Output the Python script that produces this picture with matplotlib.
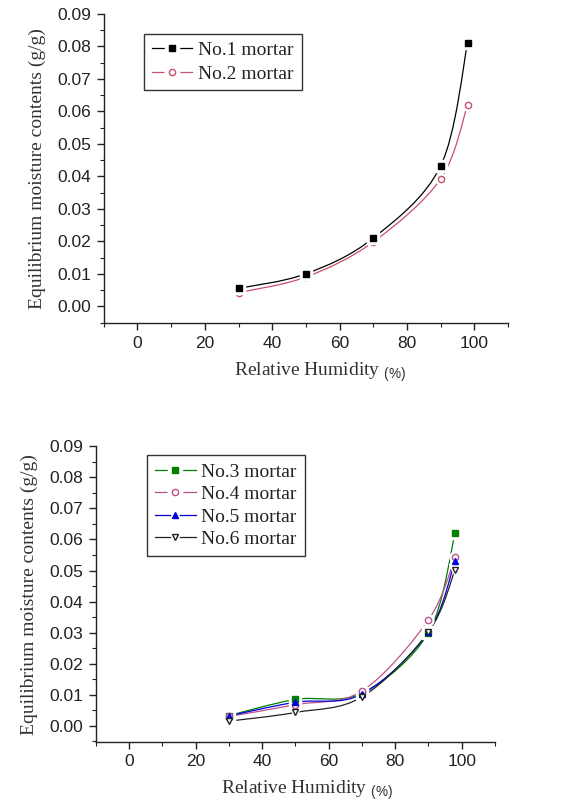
import matplotlib
matplotlib.use("Agg")
import matplotlib.pyplot as plt
from matplotlib.path import Path
from matplotlib.patches import PathPatch
from matplotlib.lines import Line2D
from matplotlib.legend_handler import HandlerTuple
from matplotlib.ticker import MultipleLocator, FormatStrFormatter

# ---- data ----
rh = [30, 50, 70, 90, 98]
mortar1 = [0.0055, 0.0100, 0.0210, 0.0432, 0.0810]
mortar2 = [0.0042, 0.0090, 0.0198, 0.0392, 0.0620]
mortar3 = [0.0033, 0.0085, 0.0105, 0.0300, 0.0620]
mortar4 = [0.0030, 0.0068, 0.0112, 0.0341, 0.0542]
mortar5 = [0.0032, 0.0076, 0.0102, 0.0302, 0.0532]
mortar6 = [0.0015, 0.0043, 0.0093, 0.0302, 0.0502]
labels_top = ["No.1 mortar", "No.2 mortar"]
labels_bot = ["No.3 mortar", "No.4 mortar", "No.5 mortar", "No.6 mortar"]
xlabel = "Relative Humidity"
ylabel = "Equilibrium moisture contents (g/g)"

SANS = "Liberation Sans"
SERIF = "Liberation Serif"
plt.rcParams["mathtext.fontset"] = "custom"
plt.rcParams["mathtext.rm"] = "Liberation Sans"
plt.rcParams["mathtext.it"] = "Liberation Sans"


def smooth_path(x, y):
    """Catmull-Rom curve through the data points as cubic Bezier segments."""
    pts = list(zip(x, y))
    n = len(pts)
    verts = [pts[0]]
    codes = [Path.MOVETO]
    for i in range(n - 1):
        p0 = pts[i - 1] if i > 0 else pts[i]
        p1 = pts[i]
        p2 = pts[i + 1]
        p3 = pts[i + 2] if i + 2 < n else pts[i + 1]
        c1 = (p1[0] + (p2[0] - p0[0]) / 6.0, p1[1] + (p2[1] - p0[1]) / 6.0)
        c2 = (p2[0] - (p3[0] - p1[0]) / 6.0, p2[1] - (p3[1] - p1[1]) / 6.0)
        verts += [c1, c2, p2]
        codes += [Path.CURVE4] * 3
    return Path(verts, codes)


def draw_series(ax, x, y, color, marker, mfc, label, ms=4.5, z=0):
    ax.add_patch(PathPatch(smooth_path(x, y), facecolor="none",
                           edgecolor=color, lw=0.9, zorder=2 + z))
    # white halo around markers gives the small gap of the line at each point
    ax.plot(x, y, linestyle="none", marker=marker, ms=ms + 3.5, mfc="white",
            mec="white", zorder=2.2 + z)
    ax.plot(x, y, linestyle="none", marker=marker, ms=ms, mfc=mfc,
            mec=color, mew=1.0, zorder=2.4 + z)
    line = Line2D([], [], color=color, lw=0.9)
    halo = Line2D([], [], linestyle="none", marker=marker, ms=ms + 6,
                  mfc="white", mec="white")
    mark = Line2D([], [], linestyle="none", marker=marker, ms=ms, mfc=mfc,
                  mec=color, mew=1.0)
    return (line, halo, mark)


def style_axes(ax, label_x):
    ax.set_xlim(-10, 110)
    ax.set_ylim(-0.0052, 0.09)
    ax.spines["top"].set_visible(False)
    ax.spines["right"].set_visible(False)
    for s in ("left", "bottom"):
        ax.spines[s].set_linewidth(1.0)
        ax.spines[s].set_color("#222222")
    ax.xaxis.set_major_locator(MultipleLocator(20))
    ax.xaxis.set_minor_locator(MultipleLocator(10))
    ax.yaxis.set_major_locator(MultipleLocator(0.01))
    ax.yaxis.set_minor_locator(MultipleLocator(0.005))
    ax.yaxis.set_major_formatter(FormatStrFormatter("%.2f"))
    ax.tick_params(which="major", direction="out", length=5, width=1.0,
                   labelsize=12.5, colors="#222222", pad=4)
    ax.tick_params(which="minor", direction="out", length=3, width=0.8,
                   colors="#222222")
    for lab in ax.get_xticklabels() + ax.get_yticklabels():
        lab.set_fontfamily(SANS)
    ax.set_xlabel(xlabel + r" $_{(\%)}$", fontfamily=SERIF, fontsize=14,
                  color="#333333", labelpad=7)
    ax.xaxis.label.set_x(label_x)
    ax.set_ylabel(ylabel, fontfamily=SERIF, fontsize=14, color="#333333",
                  labelpad=8)


def add_legend(ax, handles, labels, anchor, spacing):
    leg = ax.legend(handles=handles, labels=labels, loc="upper left",
                    bbox_to_anchor=anchor, borderaxespad=0, fancybox=False,
                    edgecolor="#333333", framealpha=1, handlelength=2.1,
                    borderpad=0.4, labelspacing=spacing, handletextpad=0.3,
                    handler_map={tuple: HandlerTuple(ndivide=1)},
                    prop={"family": SERIF, "size": 14})
    leg.get_frame().set_linewidth(1.0)
    for t in leg.get_texts():
        t.set_color("#222222")
    return leg


fig = plt.figure(figsize=(5.67, 8.10), dpi=100)
ax1 = fig.add_axes([0.183, 0.601, 0.713, 0.382])
ax2 = fig.add_axes([0.169, 0.084, 0.704, 0.365])

h1 = draw_series(ax1, rh, mortar1, "#000000", "s", "#000000", labels_top[0], z=0.5)
h2 = draw_series(ax1, rh, mortar2, "#c8506a", "o", "white", labels_top[1])
style_axes(ax1, 0.535)
add_legend(ax1, [h1, h2], labels_top, (0.099, 0.935), 0.3)

h3 = draw_series(ax2, rh, mortar3, "#008000", "s", "#008000", labels_bot[0])
h4 = draw_series(ax2, rh, mortar4, "#c0508a", "o", "white", labels_bot[1])
h5 = draw_series(ax2, rh, mortar5, "#0000dd", "^", "#0000dd", labels_bot[2])
h6 = draw_series(ax2, rh, mortar6, "#222222", "v", "white", labels_bot[3])
style_axes(ax2, 0.53)
add_legend(ax2, [h3, h4, h5, h6], labels_bot, (0.128, 0.97), 0.25)

fig.savefig("out.png", dpi=100)
